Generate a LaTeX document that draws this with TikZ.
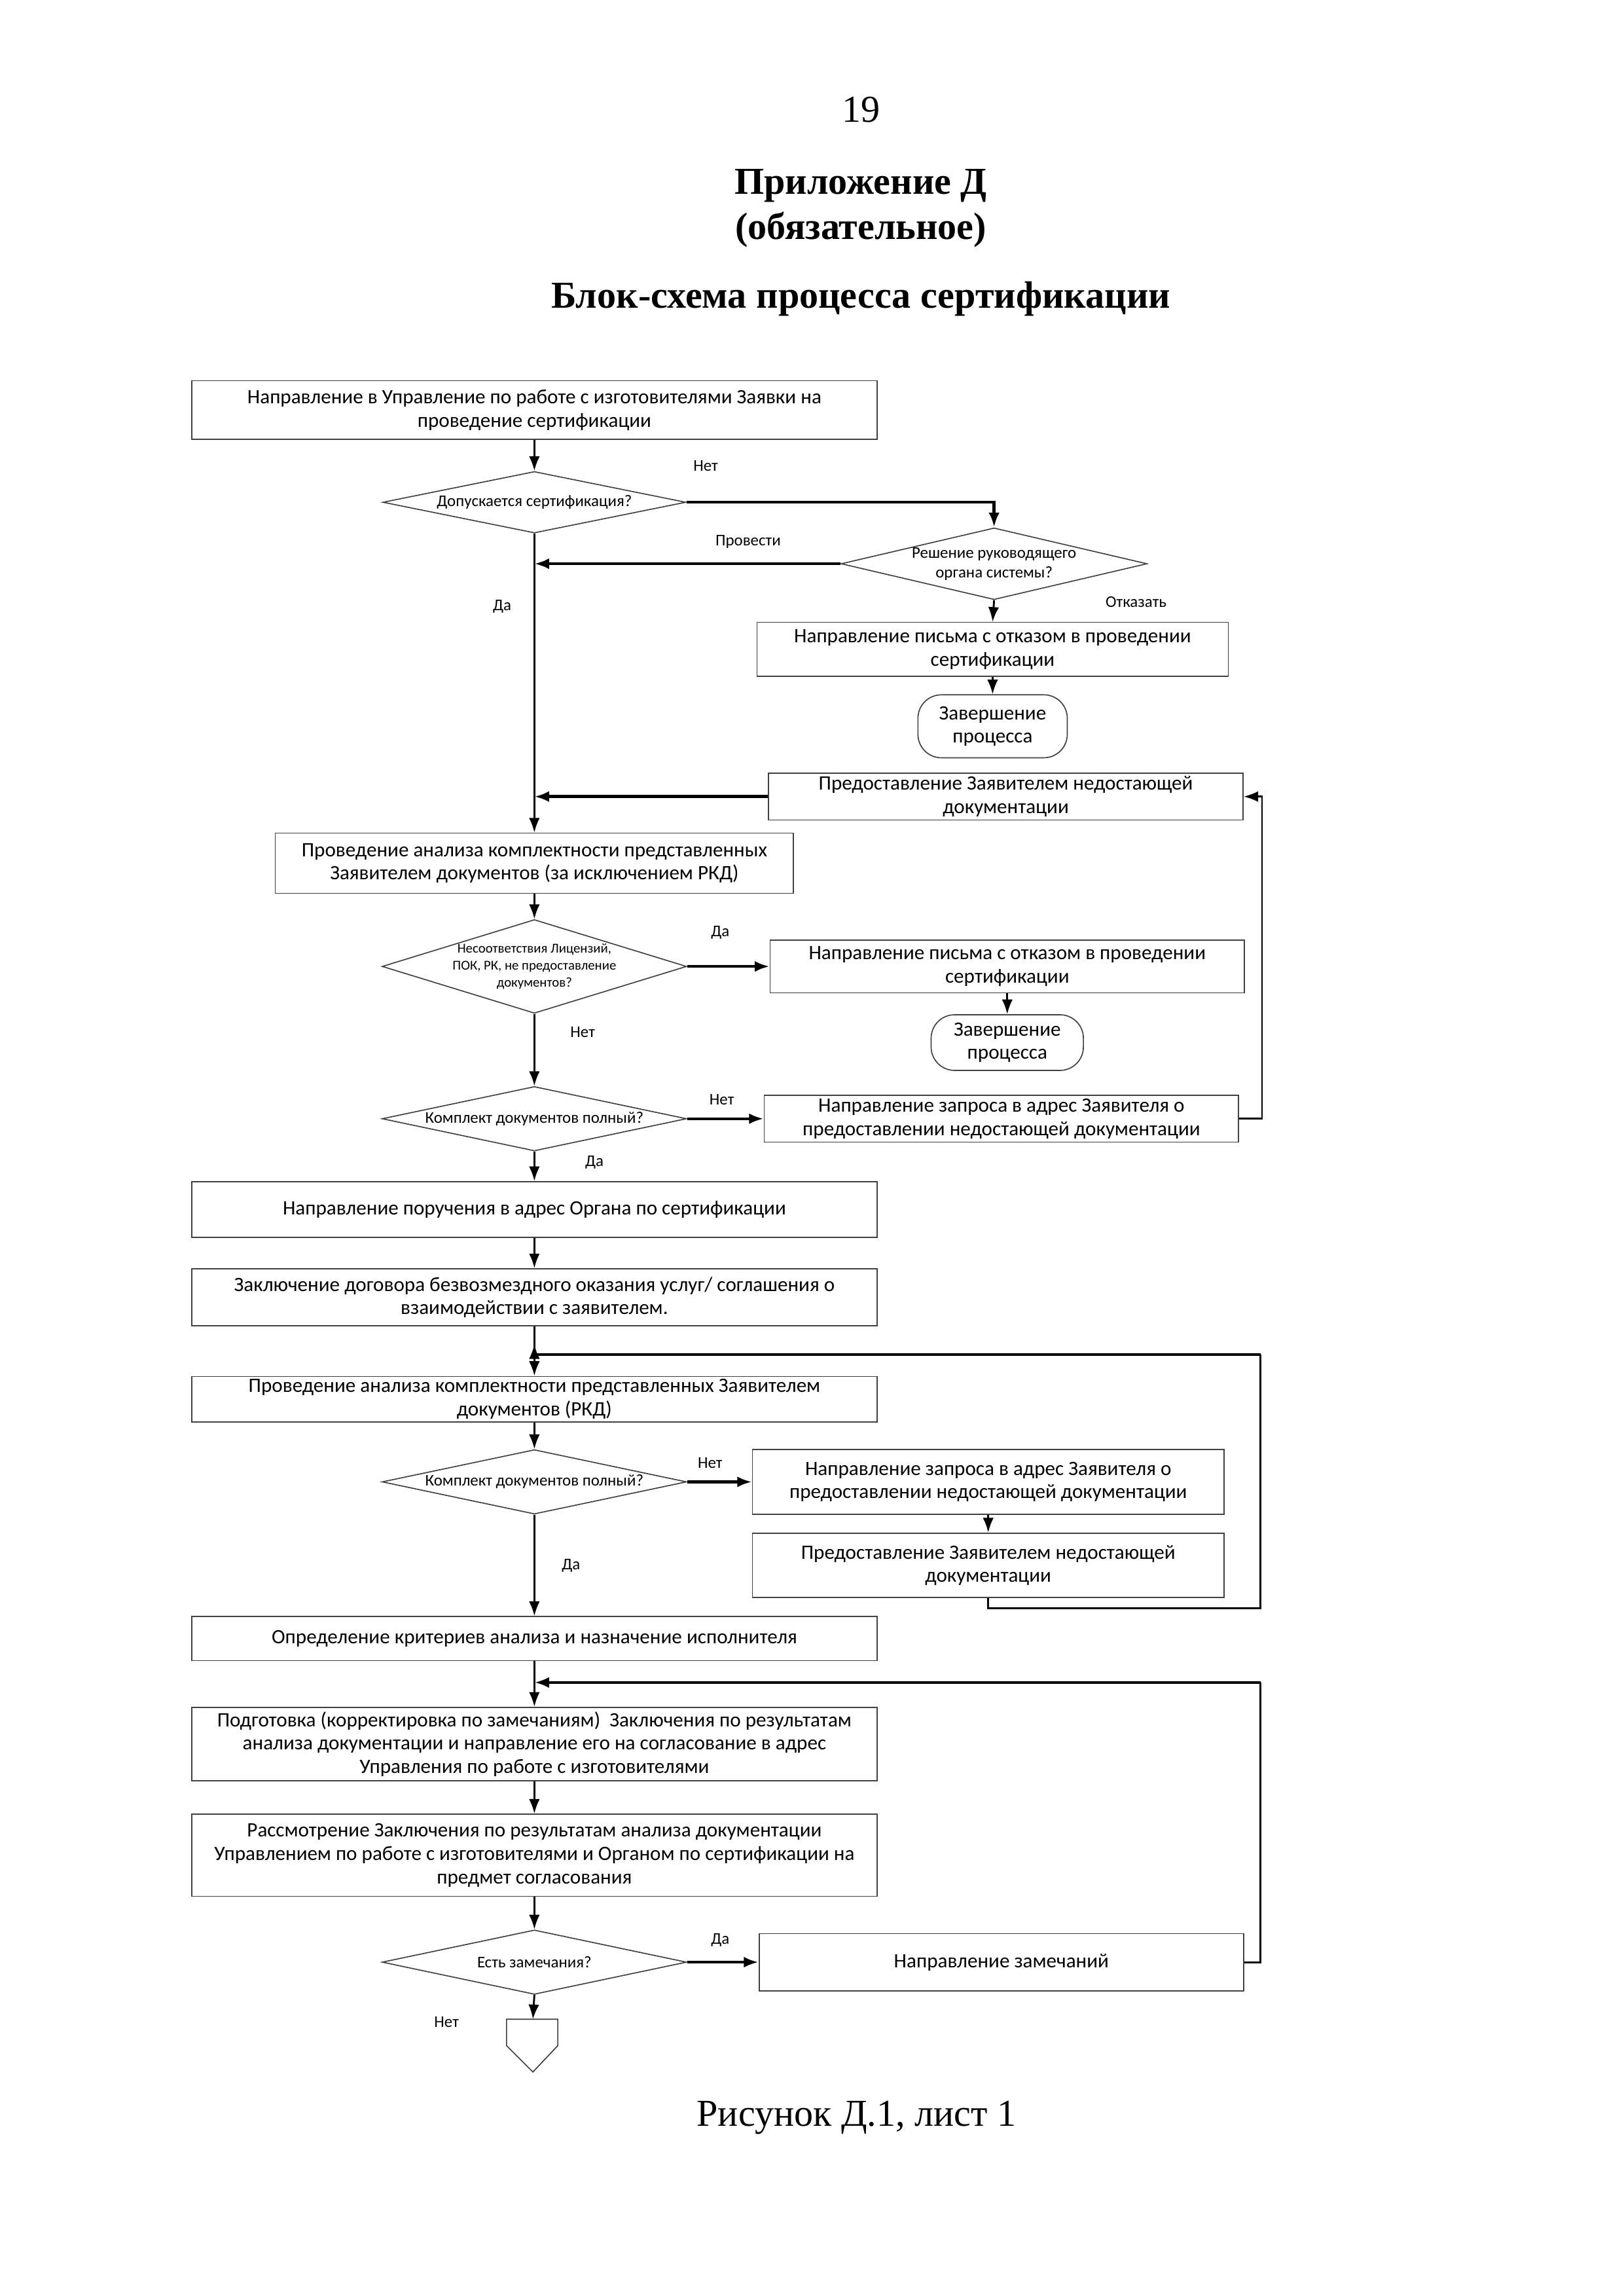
\documentclass[tikz,border=0pt]{standalone}
\usepackage{fontspec}
\setmainfont{Liberation Serif}
\newfontfamily\calfont{Carlito}
\usetikzlibrary{arrows.meta,shapes.geometric}
\newcommand\su{0.18936mm}
\begin{document}
\begin{tikzpicture}[x=0.18936mm, y=-0.18936mm,
  box/.style={draw=black!75, line width=0.4pt, inner sep=1pt, align=center,
    font=\calfont\fontsize{7.5}{8.6}\selectfont},
  sz/.style 2 args={minimum width=#1*\su, minimum height=#2*\su},
  term/.style={box, rounded corners=16*\su},
  dia/.style={diamond, draw=black!75, line width=0.4pt, inner sep=0pt},
  dtxt/.style={align=center, inner sep=0pt, font=\calfont\fontsize{6}{7.2}\selectfont},
  dtxs/.style={align=center, inner sep=0pt, font=\calfont\fontsize{5}{6.2}\selectfont},
  lbl/.style={inner sep=0pt, font=\calfont\fontsize{6}{7.2}\selectfont},
  conn/.style={line width=0.7pt, -{Latex[length=1.9mm,width=1.4mm]}},
  hconn/.style={conn, line width=1.1pt},
  line/.style={line width=0.7pt},
  hline/.style={line width=1.1pt},
  ttl/.style={inner sep=0pt, font=\fontsize{14}{16}\selectfont\bfseries}
]
\useasboundingbox (0,0) rectangle (1109,1568);

% titles
\node[inner sep=0pt, font=\fontsize{14}{16}\selectfont] (pg) at (588,75) {19};
\node[ttl] (t1l) at (588,127) {Приложение Д};
\node[ttl] (t2l) at (588,157) {(обязательное)};
\node[ttl] (t3l) at (588,204) {Блок-схема процесса сертификации};
\node[inner sep=0pt, font=\fontsize{14}{16}\selectfont] (cap) at (585,1446) {Рисунок Д.1, лист 1};

% nodes
\node[box, sz={468}{40}] (b1) at (365,280) {Направление в Управление по работе с изготовителями Заявки на\\проведение сертификации};
\node[dia, sz={207}{42}] (d1) at (365,343) {};
\node[dtxt] (d1t) at (d1.center) {Допускается сертификация?};
\node[dia, sz={209}{49}] (d2) at (679,385) {};
\node[dtxt] (d2t) at (d2.center) {Решение руководящего\\органа системы?};
\node[box, sz={322}{37}] (b2) at (678,443.5) {Направление письма с отказом в проведении\\сертификации};
\node[term, sz={102}{43}] (t1) at (678,496) {Завершение\\процесса};
\node[box, sz={324}{32}] (b3) at (687,544) {Предоставление Заявителем недостающей\\документации};
\node[box, sz={354}{41}] (b4) at (365,589.5) {Проведение анализа комплектности представленных\\Заявителем документов (за исключением РКД)};
\node[dia, sz={208}{64}] (d3) at (365,660) {};
\node[dtxs] (d3t) at (d3.center) {Несоответствия Лицензий,\\ПОК, РК, не предоставление\\документов?};
\node[box, sz={324}{36}] (b5) at (688,660) {Направление письма с отказом в проведении\\сертификации};
\node[term, sz={104}{38}] (t2) at (688,712) {Завершение\\процесса};
\node[dia, sz={208}{44}] (d4) at (365,764) {};
\node[dtxt] (d4t) at (d4.center) {Комплект документов полный?};
\node[box, sz={324}{32}] (b6) at (684,764) {Направление запроса в адрес Заявителя о\\предоставлении недостающей документации};
\node[box, sz={468}{38}] (b7) at (365,826) {Направление поручения в адрес Органа по сертификации};
\node[box, sz={468}{39}] (b8) at (365,886) {Заключение договора безвозмездного оказания услуг/ соглашения о\\взаимодействии с заявителем.};
\node[box, sz={468}{31}] (b9) at (365,955.5) {Проведение анализа комплектности представленных Заявителем\\документов (РКД)};
\node[dia, sz={208}{44}] (d5) at (365,1012) {};
\node[dtxt] (d5t) at (d5.center) {Комплект документов полный?};
\node[box, sz={322}{44}] (b10) at (675,1012) {Направление запроса в адрес Заявителя о\\предоставлении недостающей документации};
\node[box, sz={322}{44}] (b11) at (675,1069) {Предоставление Заявителем недостающей\\документации};
\node[box, sz={468}{30}] (b12) at (365,1119) {Определение критериев анализа и назначение исполнителя};
\node[box, sz={468}{50}] (b13) at (365,1191) {Подготовка (корректировка по замечаниям)\ \ Заключения по результатам\\анализа документации и направление его на согласование в адрес\\Управления по работе с изготовителями};
\node[box, sz={468}{56}] (b14) at (365,1267) {Рассмотрение Заключения по результатам анализа документации\\Управлением по работе с изготовителями и Органом по сертификации на\\предмет согласования};
\node[dia, sz={208}{44}] (d6) at (365,1340) {};
\node[dtxt] (d6t) at (d6.center) {Есть замечания?};
\node[box, sz={331}{39}] (b15) at (684,1340) {Направление замечаний};

% off-page connector
\draw[draw=black!75, line width=0.4pt] (346,1379) -- (381,1379) -- (381,1397) -- (364,1415) -- (346,1397) -- cycle;
\coordinate (opc) at (364,1379);

% junction coordinates
\coordinate (j1) at (365,385);
\coordinate (j2) at (365,544);
\coordinate (j3) at (365,925);
\coordinate (j3u) at (365,918);
\coordinate (j4) at (365,1149);
\coordinate (rx) at (862,0);
\coordinate (rx2) at (861,0);

% connectors
\draw[conn] (b1.south) -- (d1.north);
\draw[hconn] (d1.east) -| (d2.north);
\draw[hconn] (d2.west) -- (j1);
\draw[conn] (d2.south) -- (b2.north);
\draw[conn] (b2.south) -- (t1.north);
\draw[hconn] (b3.west) -- (j2);
\draw[conn] (d1.south) -- (b4.north);
\draw[conn] (b4.south) -- (d3.north);
\draw[hconn] (d3.east) -- (b5.west);
\draw[conn] (b5.south) -- (t2.north);
\draw[conn] (d3.south) -- (d4.north);
\draw[hconn] (d4.east) -- (b6.west);
\draw[conn] (b6.east) -- (b6.east -| rx) |- (b3.east);
\draw[conn] (d4.south) -- (b7.north);
\draw[conn] (b7.south) -- (b8.north);
\draw[conn] (b8.south) -- (b9.north);
\draw[conn] (b9.south) -- (d5.north);
\draw[hconn] (d5.east) -- (b10.west);
\draw[conn] (b10.south) -- (b11.north);
\draw[line] (b11.south) -- ++(0,7) -| (rx2 |- j3);
\draw[hline] (rx2 |- j3) -- (j3);
\draw[conn] (j3) -- (j3u);
\draw[conn] (d5.south) -- (b12.north);
\draw[conn] (b12.south) -- (b13.north);
\draw[conn] (b13.south) -- (b14.north);
\draw[conn] (b14.south) -- (d6.north);
\draw[hconn] (d6.east) -- (b15.west);
\draw[line] (b15.east) -- (b15.east -| rx2) -- (rx2 |- j4);
\draw[hconn] (rx2 |- j4) -- (j4);
\draw[conn] (d6.south) -- (opc);

% labels
\node[lbl] (l1) at (482,318) {Нет};
\node[lbl] (l2) at (511,370) {Провести};
\node[lbl] (l3) at (343,414) {Да};
\node[lbl] (l4) at (776,411) {Отказать};
\node[lbl] (l5) at (492,637) {Да};
\node[lbl] (l6) at (398,705) {Нет};
\node[lbl] (l7) at (493,751) {Нет};
\node[lbl] (l8) at (406,794) {Да};
\node[lbl] (l9) at (485,999) {Нет};
\node[lbl] (l10) at (390,1069) {Да};
\node[lbl] (l11) at (492,1325) {Да};
\node[lbl] (l12) at (305,1381) {Нет};
\end{tikzpicture}
\end{document}
